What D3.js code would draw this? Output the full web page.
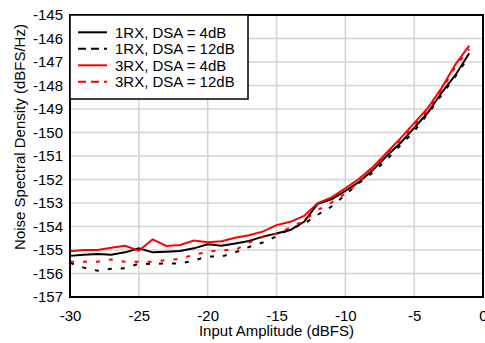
<!DOCTYPE html>
<html><head><meta charset="utf-8">
<script src="https://cdn.jsdelivr.net/npm/d3@7"></script>
<style>body{margin:0;background:#fff}svg{display:block}text{font-family:"Liberation Sans",Arial,sans-serif}</style>
</head><body><svg id="c" width="485" height="343"></svg>
<script>
const xValues = [-30,-29,-28,-27,-26,-25,-24,-23,-22,-21,-20,-19,-18,-17,-16,-15,-14,-13,-12,-11,-10,-9,-8,-7,-6,-5,-4,-3,-2,-1];
const rx1dsa4 = [-155.25,-155.2,-155.17,-155.2,-155.1,-154.93,-155.1,-155.07,-155.04,-154.93,-154.76,-154.82,-154.72,-154.62,-154.43,-154.3,-154.15,-153.8,-153.03,-152.84,-152.49,-152.1,-151.6,-151.0,-150.45,-149.8,-149.15,-148.3,-147.55,-146.63];
const rx1dsa12 = [-155.55,-155.75,-155.88,-155.8,-155.78,-155.58,-155.6,-155.57,-155.58,-155.45,-155.27,-155.28,-155.1,-154.87,-154.68,-154.42,-154.1,-153.88,-153.5,-153.15,-152.65,-152.15,-151.7,-151.15,-150.55,-149.95,-149.2,-148.4,-147.6,-146.75];
const rx3dsa4 = [-155.05,-155.0,-155.0,-154.9,-154.82,-155.03,-154.55,-154.83,-154.79,-154.6,-154.67,-154.63,-154.48,-154.37,-154.22,-153.94,-153.8,-153.55,-153.0,-152.76,-152.38,-151.97,-151.47,-150.86,-150.25,-149.6,-148.95,-148.1,-147.1,-146.3];
const rx3dsa12 = [-155.5,-155.5,-155.5,-155.4,-155.5,-155.5,-155.5,-155.43,-155.38,-155.2,-155.08,-155.0,-155.0,-154.68,-154.45,-154.3,-154.05,-153.75,-153.3,-152.98,-152.6,-152.1,-151.55,-150.95,-150.35,-149.7,-149.05,-148.2,-147.2,-146.45];
const seriesNames = ["1RX, DSA = 4dB","1RX, DSA = 12dB","3RX, DSA = 4dB","3RX, DSA = 12dB"];
const seriesColors = ["#000000","#000000","#ff0000","#ff0000"];
const seriesDashed = [false,true,false,true];
const xTicks = [-30,-25,-20,-15,-10,-5,0];
const yTicks = [-145,-146,-147,-148,-149,-150,-151,-152,-153,-154,-155,-156,-157];
const xLabel = "Input Amplitude (dBFS)";
const yLabel = "Noise Spectral Density (dBFS/Hz)";

const seriesData = [rx1dsa4, rx1dsa12, rx3dsa4, rx3dsa12];
const L=70, R=483, T=15, B=297;
const FONT = "'Liberation Sans', Arial, sans-serif";
const svg = d3.select("#c");
const x = d3.scaleLinear().domain([-30,0]).range([L,R]);
const y = d3.scaleLinear().domain([-157,-145]).range([B,T]);
const fmt = d => String(d);

// grid
const g = svg.append("g");
g.selectAll("line.vg").data(xTicks).join("line").attr("x1",d=>x(d)).attr("x2",d=>x(d)).attr("y1",T).attr("y2",B).attr("stroke","#d4d4d4").attr("stroke-width",1.5);
g.selectAll("line.hg").data(yTicks).join("line").attr("y1",d=>y(d)).attr("y2",d=>y(d)).attr("x1",L).attr("x2",R).attr("stroke","#d4d4d4").attr("stroke-width",1.5);

// axes
const xa = svg.append("g").attr("transform",`translate(0,${B})`).call(d3.axisBottom(x).tickValues(xTicks).tickSize(0).tickPadding(13).tickFormat(fmt));
const ya = svg.append("g").attr("transform",`translate(${L},0)`).call(d3.axisLeft(y).tickValues(yTicks).tickSize(0).tickPadding(7).tickFormat(fmt));
[xa,ya].forEach(a=>{a.select(".domain").remove();a.attr("font-family",null).attr("font-size",null);a.selectAll("text").attr("font-size",15).attr("fill","#000").style("font-family",FONT);});

// lines
const line = d3.line().x((d,i)=>x(xValues[i])).y(d=>y(d));
seriesData.forEach((s,k)=>{
  svg.append("path").datum(s).attr("d",line).attr("fill","none")
    .attr("stroke",seriesColors[k]).attr("stroke-width",2)
    .attr("stroke-dasharray",seriesDashed[k]?"4,9":null);
});

// frame
svg.append("rect").attr("x",L).attr("y",T).attr("width",R-L).attr("height",B-T).attr("fill","none").attr("stroke","#000").attr("stroke-width",2);

// legend
const lg = svg.append("g");
lg.append("rect").attr("x",L).attr("y",T).attr("width",178).attr("height",84).attr("fill","#fff").attr("stroke","#000").attr("stroke-width",1.5);
seriesNames.forEach((n,k)=>{
  const yy = 32.3+k*16.5;
  lg.append("line").attr("x1",78).attr("x2",107).attr("y1",yy).attr("y2",yy).attr("stroke",seriesColors[k]).attr("stroke-width",2).attr("stroke-dasharray",seriesDashed[k]?"8,5":null);
  lg.append("text").attr("x",115).attr("y",yy+5.5).attr("font-size",15).style("font-family",FONT).text(n);
});

// labels
svg.append("text").attr("x",(L+R)/2).attr("y",336).attr("text-anchor","middle").attr("font-size",15).style("font-family",FONT).text(xLabel);
svg.append("text").attr("transform",`translate(25,137) rotate(-90)`).attr("text-anchor","middle").attr("font-size",15).style("font-family",FONT).text(yLabel);
</script></body></html>
